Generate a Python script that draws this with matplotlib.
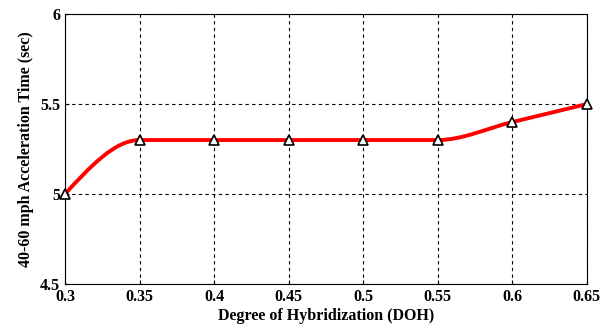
import numpy as np
import matplotlib.pyplot as plt
from matplotlib.path import Path
from matplotlib.patches import PathPatch

# datos
doh = [0.3, 0.35, 0.4, 0.45, 0.5, 0.55, 0.6, 0.65]
accel_time = [5.0, 5.3, 5.3, 5.3, 5.3, 5.3, 5.4, 5.5]
xticks = [0.3, 0.35, 0.4, 0.45, 0.5, 0.55, 0.6, 0.65]
yticks = [4.5, 5, 5.5, 6]

plt.rcParams['font.family'] = ['Liberation Serif', 'DejaVu Serif']
plt.rcParams['font.weight'] = 'bold'

fig = plt.figure(figsize=(6.09, 3.29), dpi=100)
ax = fig.add_axes([0.1067, 0.137, 0.857, 0.82])

# curva suave (bezier cubica con tangentes monotonas) a traves de los puntos
x = np.array(doh)
y = np.array(accel_time)
d = np.diff(y) / np.diff(x)
m = np.zeros_like(y)
m[-1] = d[-1]
for i in range(1, len(y) - 1):
    m[i] = 0.0 if d[i - 1] * d[i] <= 0 else 2 / (1 / d[i - 1] + 1 / d[i])
m[0] = 1.5 * d[0] - 0.5 * m[1]
verts = [(x[0], y[0])]
codes = [Path.MOVETO]
for i in range(len(x) - 1):
    h = x[i + 1] - x[i]
    verts += [(x[i] + h / 3, y[i] + m[i] * h / 3),
              (x[i + 1] - h / 3, y[i + 1] - m[i + 1] * h / 3),
              (x[i + 1], y[i + 1])]
    codes += [Path.CURVE4] * 3
ax.add_patch(PathPatch(Path(verts, codes), fill=False, edgecolor='red', lw=2.8, zorder=3))

ax.plot(doh, accel_time, linestyle='none', marker='^', markersize=7,
        markerfacecolor='white', markeredgecolor='black', markeredgewidth=1.2,
        zorder=4, clip_on=False)

ax.set_xlim(0.3, 0.65)
ax.set_ylim(4.5, 6)
ax.set_xticks(xticks)
ax.set_xticklabels([f'{v:g}' for v in xticks])
ax.set_yticks(yticks)
ax.set_yticklabels([f'{v:g}' for v in yticks])
ax.tick_params(direction='in', length=3, labelsize=11.5)
ax.grid(True, color='black', linestyle=(0, (3, 3)), linewidth=0.8)

ax.set_xlabel('Degree of Hybridization (DOH)', fontsize=11.5, fontweight='bold', labelpad=2)
ax.set_ylabel('40-60 mph Acceleration Time (sec)', fontsize=11.5, fontweight='bold', labelpad=4)

fig.savefig('out.png', dpi=100)
